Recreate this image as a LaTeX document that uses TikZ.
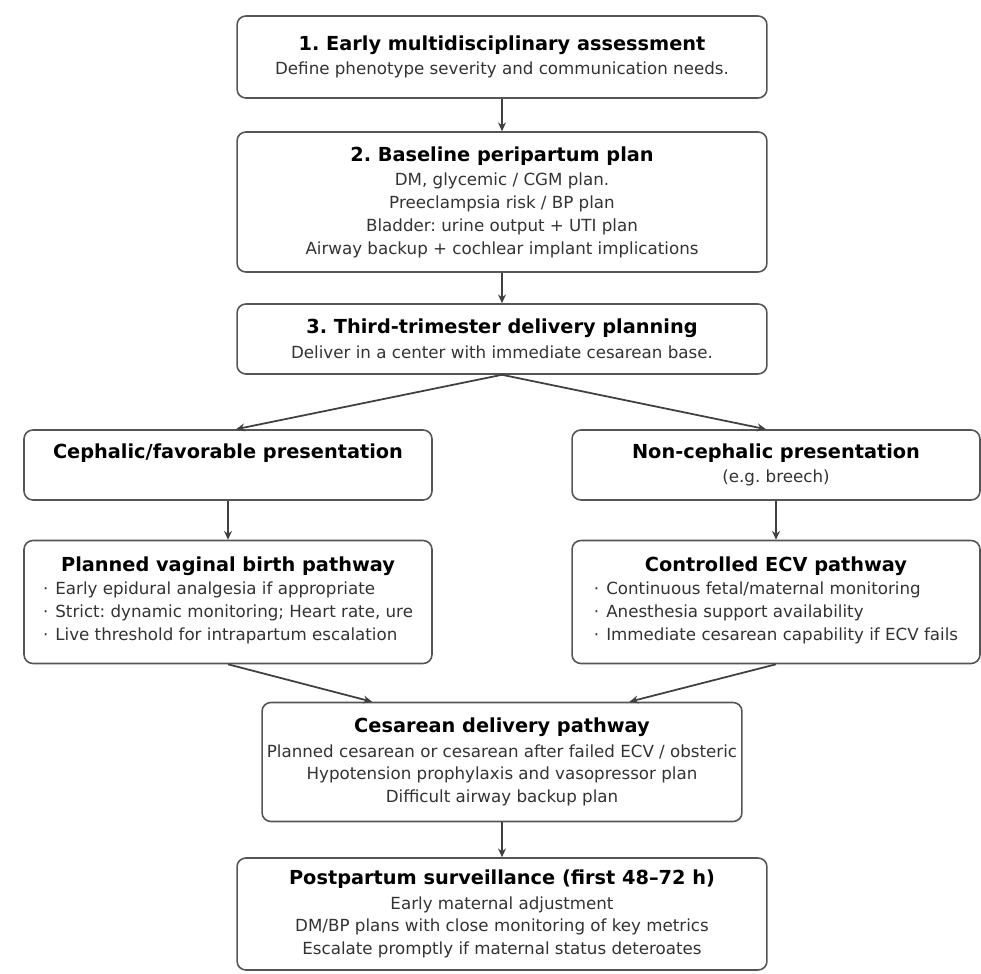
\documentclass[tikz,border=0pt]{standalone}
\usepackage{fontspec}
\setmainfont{DejaVu Sans}
\usetikzlibrary{arrows.meta, positioning}
\definecolor{boxline}{HTML}{555555}
\definecolor{bodytext}{HTML}{333333}
\newcommand{\steptitle}[1]{{\fontsize{11}{14}\selectfont\bfseries\color{black}#1}}
\newcommand{\stepitem}{·\hspace{4pt}}
\frenchspacing

\begin{document}
\begin{tikzpicture}[
                x=0.02cm, y=-0.02cm,
                stepbox/.style={draw=boxline, line width=0.9pt, rounded corners=5pt, fill=white, align=center, inner sep=0pt, text=bodytext, font=\fontsize{9.5}{13}\selectfont},
                widebox/.style={stepbox, minimum width=10.6cm},
                sidebox/.style={stepbox, minimum width=8.16cm},
                flow/.style={draw=black!75, line width=1pt, -{Stealth[length=5pt, width=4.5pt]}}
            ]
            \useasboundingbox[fill=white] (0,0) rectangle (981,974);

            % Knoten
            \node[widebox, minimum height=1.64cm] (assess) at (502,57) {\steptitle{1. Early multidisciplinary assessment}\\[1pt] Define phenotype severity and communication needs.};
            \node[widebox, minimum height=2.8cm] (baseline) at (502,202) {\steptitle{2. Baseline peripartum plan}\\[1pt] DM, glycemic / CGM plan.\\ Preeclampsia risk / BP plan\\ Bladder: urine output + UTI plan\\ Airway backup + cochlear implant implications};
            \node[widebox, minimum height=1.4cm] (thirdtri) at (502,339) {\steptitle{3. Third-trimester delivery planning}\\[1pt] Deliver in a center with immediate cesarean base.};
            \node[sidebox, minimum height=1.4cm] (cephalic) at (228,465) {\steptitle{Cephalic/favorable presentation}\\[1pt] \phantom{(e.g. breech)}};
            \node[sidebox, minimum height=1.4cm] (noncephalic) at (776,465) {\steptitle{Non-cephalic presentation}\\[1pt] (e.g. breech)};
            \node[sidebox, minimum height=2.46cm] (vaginal) at (228,602) {\steptitle{Planned vaginal birth pathway}\\[1pt]
                \begin{tabular}{@{}l@{}}
                \stepitem Early epidural analgesia if appropriate\\
                \stepitem Strict: dynamic monitoring; Heart rate, ure\\
                \stepitem Live threshold for intrapartum escalation
                \end{tabular}};
            \node[sidebox, minimum height=2.46cm] (ecv) at (776,602) {\steptitle{Controlled ECV pathway}\\[1pt]
                \begin{tabular}{@{}l@{}}
                \stepitem Continuous fetal/maternal monitoring\\
                \stepitem Anesthesia support availability\\
                \stepitem Immediate cesarean capability if ECV fails
                \end{tabular}};
            \node[stepbox, minimum width=9.6cm, minimum height=2.38cm] (cesarean) at (502,762) {\steptitle{Cesarean delivery pathway}\\[1pt] Planned cesarean or cesarean after failed ECV / obsteric\\ Hypotension prophylaxis and vasopressor plan\\ Difficult airway backup plan};
            \node[widebox, minimum height=2.24cm] (postpartum) at (502,914) {\steptitle{Postpartum surveillance (first 48--72 h)}\\[1pt] Early maternal adjustment\\ DM/BP plans with close monitoring of key metrics\\ Escalate promptly if maternal status deteroates};

            % Kanten zwischen Knoten
            \draw[flow] (assess) -- (baseline);
            \draw[flow] (baseline) -- (thirdtri);
            \draw[flow] (thirdtri.south) -- ([xshift=0.16cm]cephalic.north);
            \draw[flow] (thirdtri.south) -- ([xshift=-0.2cm]noncephalic.north);
            \draw[flow] (cephalic) -- (vaginal);
            \draw[flow] (noncephalic) -- (ecv);
            \draw[flow] (vaginal.south) -- ([xshift=-2.6cm]cesarean.north);
            \draw[flow] (ecv.south) -- ([xshift=2.55cm]cesarean.north);
            \draw[flow] (cesarean) -- (postpartum);

        \end{tikzpicture}
\end{document}
